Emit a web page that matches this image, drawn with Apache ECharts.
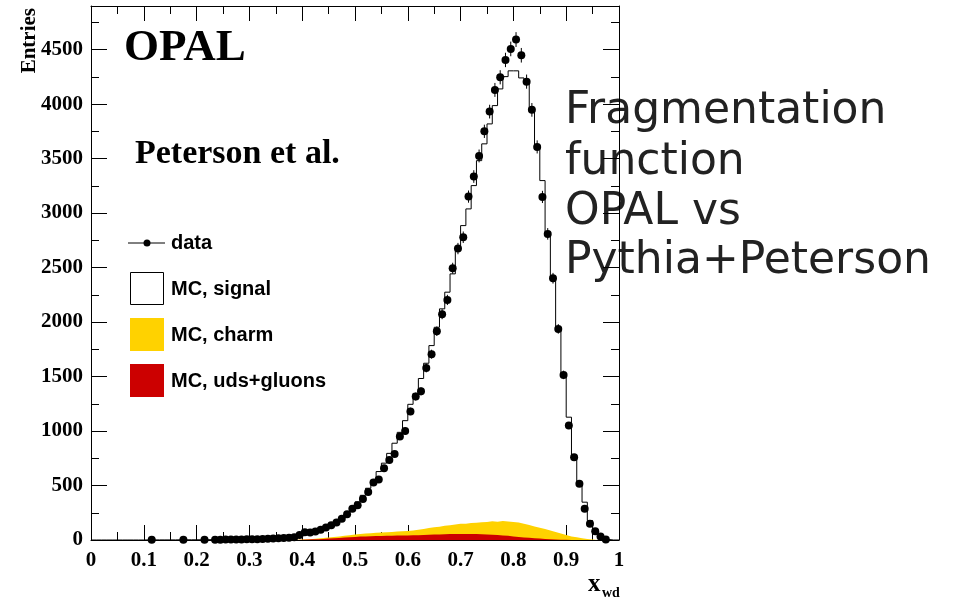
<!DOCTYPE html>
<html><head><meta charset="utf-8">
<script src="https://cdn.jsdelivr.net/npm/echarts@6/dist/echarts.min.js"></script>
<style>html,body{margin:0;padding:0;background:#fff}#c{width:966px;height:600px}</style>
</head><body><div id="c"></div>
<script>
// ---- data ----
const binWidth = 0.01;
// OPAL data: bin centres, entries, statistical errors
const dataX = [0.115,0.175,0.215,
  0.235,0.245,0.255,0.265,0.275,0.285,0.295,
  0.305,0.315,0.325,0.335,0.345,0.355,0.365,0.375,0.385,0.395,
  0.405,0.415,0.425,0.435,0.445,0.455,0.465,0.475,0.485,0.495,
  0.505,0.515,0.525,0.535,0.545,0.555,0.565,0.575,0.585,0.595,
  0.605,0.615,0.625,0.635,0.645,0.655,0.665,0.675,0.685,0.695,
  0.705,0.715,0.725,0.735,0.745,0.755,0.765,0.775,0.785,0.795,
  0.805,0.815,0.825,0.835,0.845,0.855,0.865,0.875,0.885,0.895,
  0.905,0.915,0.925,0.935,0.945,0.955,0.965,0.975];
const dataY = [2,2,3,
  3,3,4,4,5,5,6,
  7,8,9,11,13,15,18,21,26,45,
  72,68,79,93,115,135,160,195,236,286,
  320,376,440,528,555,658,734,790,950,1000,
  1180,1316,1364,1578,1705,1916,2072,2203,2494,2674,
  2778,3151,3335,3524,3750,3931,4130,4246,4405,4506,
  4592,4448,4206,3947,3607,3148,2809,2402,1937,1515,
  1050,760,516,286,149,81,32,5];
const dataErr = [1,1,2,
  2,2,2,2,2,2,2,
  3,3,3,3,4,4,4,5,5,7,
  8,8,9,10,11,12,13,14,15,17,
  18,19,21,23,24,26,27,28,31,32,
  34,36,37,40,41,44,46,47,50,52,
  53,56,58,59,61,63,64,65,66,67,
  68,67,65,63,60,56,53,49,44,39,
  32,28,23,17,12,9,6,2];
// MC total (signal on top of background), 100 bins from 0 to 1
const mcLow = 0.0;
const mcSignal = [0,0,0,0,0,0,0,0,0,0,
  1,1,1,1,1,1,2,2,2,2,
  2,3,3,3,3,4,4,5,5,6,
  7,8,9,11,13,15,18,21,27,38,
  52,68,86,106,128,152,180,212,250,296,
  350,410,475,548,628,705,795,888,988,1095,
  1245,1345,1482,1622,1784,1952,2121,2274,2442,2656,
  2885,3038,3252,3481,3635,3818,3986,4139,4252,4305,
  4305,4240,4200,3950,3600,3298,2793,2411,1952,1509,
  1127,760,530,347,179,87,26,5,0,0];
// backgrounds, bins from 0.38
const bgLow = 0.38;
const mcUds = [1,2,4,6,8,10,13,16,19,22,
  25,28,31,33,35,36,37,38,40,41,
  42,42,43,44,46,48,50,51,52,54,
  55,56,56,55,54,52,50,48,45,42,
  38,33,28,24,20,16,13,10,7,5,
  3,2,1,0,0,0,0,0];
const mcCharm = [1,2,3,4,6,8,9,11,13,16,
  19,22,25,27,28,30,31,32,34,37,
  38,40,45,51,56,62,66,71,78,82,
  87,92,94,100,104,110,115,124,123,132,
  132,132,132,126,118,109,99,90,81,69,
  57,43,32,25,16,9,4,1];

const yellow = '#ffd200', red = '#cc0000';

function stepData(low, vals) {
  const out = vals.map((v, i) => [+(low + i * binWidth).toFixed(3), v]);
  out.push([+(low + vals.length * binWidth).toFixed(3), 0]);
  return out;
}
const bgTotal = mcUds.map((u, i) => u + mcCharm[i]);

const labelStyle = {fontFamily: 'Liberation Serif', fontWeight: 'bold', fontSize: 21, color: '#000'};
const lineBlack = {color: '#000', width: 1};
function xAx(pos, showLabel) {
  return {type: 'value', min: 0, max: 1, interval: 0.1, position: pos,
    axisLine: {show: true, onZero: false, lineStyle: lineBlack},
    axisTick: {show: true, inside: true, length: 15, lineStyle: lineBlack},
    minorTick: {show: true, splitNumber: 2, length: 8, lineStyle: lineBlack},
    splitLine: {show: false}, minorSplitLine: {show: false},
    axisLabel: Object.assign({show: showLabel, margin: 10,
      formatter: v => String(+v.toFixed(2))}, labelStyle)};
}
function yAx(pos, showLabel) {
  return {type: 'value', min: 0, max: 4900, interval: 500, position: pos,
    axisLine: {show: true, onZero: false, lineStyle: lineBlack},
    axisTick: {show: true, inside: true, length: 16, lineStyle: lineBlack},
    minorTick: {show: true, splitNumber: 2, length: 8, lineStyle: lineBlack},
    splitLine: {show: false}, minorSplitLine: {show: false},
    axisLabel: Object.assign({show: showLabel, margin: 8, showMaxLabel: false,
      formatter: v => String(Math.round(v))}, labelStyle)};
}

const chart = echarts.init(document.getElementById('c'), null, {renderer: 'canvas'});
const legFont = 'bold 20px "Liberation Sans", Arial, sans-serif';
const noteFont = '44px "DejaVu Sans", sans-serif';
chart.setOption({
  animation: false,
  backgroundColor: '#fff',
  grid: {left: 91, right: 347, top: 6, bottom: 60, containLabel: false, outerBoundsMode: 'none'},
  xAxis: [xAx('bottom', true), xAx('top', false)],
  yAxis: [yAx('left', true), yAx('right', false)],
  series: [
    {name: 'MC, charm', type: 'line', step: 'end', symbol: 'none', silent: true, z: 1,
      lineStyle: {width: 0}, areaStyle: {color: yellow, opacity: 1},
      data: stepData(bgLow, bgTotal)},
    {name: 'MC, uds+gluons', type: 'line', step: 'end', symbol: 'none', silent: true, z: 2,
      lineStyle: {width: 0}, areaStyle: {color: red, opacity: 1},
      data: stepData(bgLow, mcUds)},
    {name: 'MC, signal', type: 'line', step: 'end', symbol: 'none', silent: true, z: 3,
      lineStyle: {color: '#000', width: 1},
      data: stepData(mcLow, mcSignal)},
    {name: 'errors', type: 'custom', z: 4, silent: true,
      encode: {x: 0, y: [1, 2]},
      data: dataX.map((x, i) => [x, dataY[i] - dataErr[i], dataY[i] + dataErr[i]]),
      renderItem: function (params, api) {
        const p1 = api.coord([api.value(0), api.value(1)]);
        const p2 = api.coord([api.value(0), api.value(2)]);
        return {type: 'line', shape: {x1: p1[0], y1: p1[1], x2: p2[0], y2: p2[1]},
          style: {stroke: '#000', lineWidth: 1}};
      }},
    {name: 'data', type: 'scatter', z: 5, symbol: 'circle', symbolSize: 8, silent: true,
      itemStyle: {color: '#000', opacity: 1},
      data: dataX.map((x, i) => [x, dataY[i]])}
  ],
  graphic: [
    {type: 'text', x: 124, y: 48, style: {text: 'OPAL', font: 'bold 45px "Liberation Serif", serif', fill: '#000', textAlign: 'left', textVerticalAlign: 'middle'}},
    {type: 'text', x: 135, y: 154, style: {text: 'Peterson et al.', font: 'bold 34px "Liberation Serif", serif', fill: '#000', textAlign: 'left', textVerticalAlign: 'middle'}},
    {type: 'text', x: 30, y: 8, rotation: Math.PI / 2, style: {text: 'Entries', font: 'bold 21px "Liberation Serif", serif', fill: '#000', textAlign: 'right', textVerticalAlign: 'middle'}},
    {type: 'text', x: 588, y: 585, style: {text: 'x', font: 'bold 25px "Liberation Serif", serif', fill: '#000', textAlign: 'left', textVerticalAlign: 'middle'}},
    {type: 'text', x: 602, y: 593, style: {text: 'wd', font: 'bold 14px "Liberation Serif", serif', fill: '#000', textAlign: 'left', textVerticalAlign: 'middle'}},
    // legend
    {type: 'line', shape: {x1: 128, y1: 243, x2: 165, y2: 243}, style: {stroke: '#000', lineWidth: 1}},
    {type: 'circle', shape: {cx: 147, cy: 243, r: 3.5}, style: {fill: '#000'}},
    {type: 'text', x: 171, y: 243, style: {text: 'data', font: legFont, fill: '#000', textAlign: 'left', textVerticalAlign: 'middle'}},
    {type: 'rect', shape: {x: 130.5, y: 272.5, width: 33, height: 32}, style: {fill: '#fff', stroke: '#000', lineWidth: 1}},
    {type: 'text', x: 171, y: 289, style: {text: 'MC, signal', font: legFont, fill: '#000', textAlign: 'left', textVerticalAlign: 'middle'}},
    {type: 'rect', shape: {x: 130, y: 318, width: 34, height: 33}, style: {fill: yellow}},
    {type: 'text', x: 171, y: 335, style: {text: 'MC, charm', font: legFont, fill: '#000', textAlign: 'left', textVerticalAlign: 'middle'}},
    {type: 'rect', shape: {x: 130, y: 364, width: 34, height: 33}, style: {fill: red}},
    {type: 'text', x: 171, y: 381, style: {text: 'MC, uds+gluons', font: legFont, fill: '#000', textAlign: 'left', textVerticalAlign: 'middle'}},
    // annotation on the right
    {type: 'text', x: 565, y: 112, style: {text: 'Fragmentation', font: noteFont, fill: '#222', textAlign: 'left', textVerticalAlign: 'middle'}},
    {type: 'text', x: 565, y: 163, style: {text: 'function', font: noteFont, fill: '#222', textAlign: 'left', textVerticalAlign: 'middle'}},
    {type: 'text', x: 565, y: 213, style: {text: 'OPAL vs', font: noteFont, fill: '#222', textAlign: 'left', textVerticalAlign: 'middle'}},
    {type: 'text', x: 565, y: 262, style: {text: 'Pythia+Peterson', font: noteFont, fill: '#222', textAlign: 'left', textVerticalAlign: 'middle'}}
  ]
});
</script>
</body></html>
